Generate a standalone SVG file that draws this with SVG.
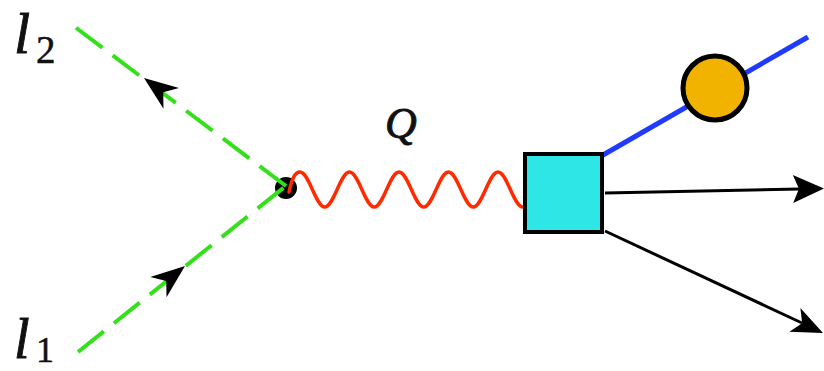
<svg xmlns="http://www.w3.org/2000/svg" width="824" height="371" viewBox="0 0 824 371">
<style>
.lep{fill:none;stroke:#33E01A;stroke-width:4;stroke-dasharray:33 13}
.barb{fill:#000}
.out{fill:none;stroke:#000;stroke-width:3}
.lbl{font-family:"Liberation Serif",serif;font-style:italic;fill:#111;stroke:#111;stroke-width:0.9}
.sub{font-family:"Liberation Serif",serif;fill:#111;stroke:#111;stroke-width:0.5}
</style>
<rect width="824" height="371" fill="#fff"/>
<g id="vertex"><circle cx="286" cy="188" r="11" fill="#000"/></g>
<g id="connectors">
<path class="lep" d="M286,186 L75,27"/>
<path class="lep" d="M78,352 L287,185"/>
<path class="barb" transform="translate(144,78) rotate(216.7)" d="M0,0 L-34,-13 L-24,0 L-34,13 Z"/>
<path class="barb" transform="translate(185,266) rotate(-38.6)" d="M0,0 L-34,-13 L-24,0 L-34,13 Z"/>
<path fill="none" stroke="#FF2A00" stroke-width="3.5" stroke-linecap="round" d="M289,192 C292,178 295,172 300,172 C309,172 315.75,207 324.75,207 C333.75,207 340.5,172 349.5,172 C358.5,172 365.25,207 374.25,207 C383.25,207 390,172 399,172 C408,172 414.75,207 423.75,207 C432.75,207 439.5,172 448.5,172 C457.5,172 464.25,207 473.25,207 C482.25,207 489,172 498,172 C507,172 513.75,207 522.75,207"/>
<path fill="none" stroke="#1F3BFF" stroke-width="5" d="M603,155 L808,37"/>
<path class="out" d="M605,193 L800,189"/>
<path class="barb" transform="translate(824,188.5) rotate(-0.8)" d="M0,0 L-31,-14 L-25,0 L-31,14 Z"/>
<path class="out" d="M605,231 L802,323"/>
<path class="barb" transform="translate(823,333) rotate(25)" d="M0,0 L-31,-13 L-23,0 L-31,13 Z"/>
</g>
<g id="blob"><rect x="525" y="154" width="77" height="78" fill="#2EE6E6" stroke="#000" stroke-width="4"/></g>
<g id="hadron"><circle cx="715" cy="88" r="32" fill="#F2B200" stroke="#000" stroke-width="5"/></g>
<g id="label-l2"><text class="lbl" x="14" y="53" font-size="58">l</text><text class="sub" x="36" y="63" font-size="39">2</text></g>
<g id="label-l1"><text class="lbl" x="14" y="358" font-size="56">l</text><text class="sub" x="36" y="362" font-size="36">1</text></g>
<g id="label-Q"><text class="lbl" x="385" y="138" font-size="44">Q</text></g>
</svg>
